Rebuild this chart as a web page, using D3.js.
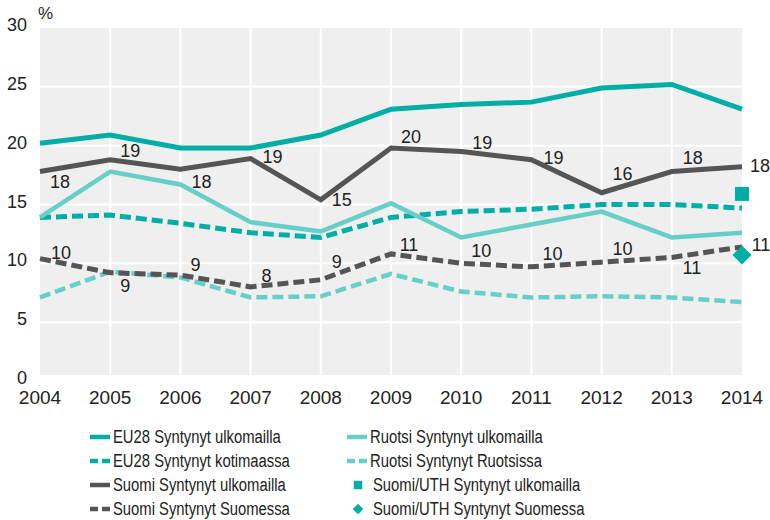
<!DOCTYPE html>
<html>
<head>
<meta charset="utf-8">
<script src="https://cdn.jsdelivr.net/npm/d3@7"></script>
<style>
  body { margin: 0; background: #fff; }
  svg text { font-family: "Liberation Sans", Arial, sans-serif; fill: #222; }
</style>
</head>
<body>
<svg id="chart" width="770" height="520"></svg>
<script>
var years = [2004, 2005, 2006, 2007, 2008, 2009, 2010, 2011, 2012, 2013, 2014];
var yTicks = [0, 5, 10, 15, 20, 25, 30];

var eu28Ulk    = [20.2, 20.9, 19.8, 19.8, 20.9, 23.1, 23.5, 23.7, 24.9, 25.2, 23.1];
var eu28Kot    = [13.9, 14.1, 13.4, 12.6, 12.2, 13.9, 14.4, 14.6, 15.0, 15.0, 14.7];
var suomiUlk   = [17.8, 18.8, 18.0, 18.9, 15.4, 19.8, 19.5, 18.8, 16.0, 17.8, 18.2];
var suomiSuom  = [10.4, 9.2, 9.0, 8.0, 8.6, 10.8, 10.0, 9.7, 10.1, 10.5, 11.4];
var ruotsiUlk  = [13.9, 17.8, 16.7, 13.5, 12.7, 15.1, 12.2, 13.3, 14.4, 12.2, 12.6];
var ruotsiRuot = [7.1, 9.3, 8.8, 7.1, 7.2, 9.1, 7.6, 7.1, 7.2, 7.1, 6.7];
var uthUlk  = 15.9;   // 2014
var uthSuom = 10.7;   // 2014

var suomiUlkLabels  = [18, 19, 18, 19, 15, 20, 19, 19, 16, 18, 18];
var suomiSuomLabels = [10, 9, 9, 8, 9, 11, 10, 10, 10, 11, 11];

var TEAL = '#00aea6', LIGHT = '#66cfc7', GREY = '#555555';

var svg = d3.select('#chart');

var x = d3.scaleLinear().domain([2004, 2014]).range([40, 742]);
var y = d3.scaleLinear().domain([0, 30]).range([381, 28]);

// plot background
svg.append('rect')
    .attr('x', x(2004)).attr('y', y(30))
    .attr('width', x(2014) - x(2004))
    .attr('height', y(0) - y(30) - 6)
    .attr('fill', '#efefef');

// gridlines
svg.append('g').selectAll('line').data(yTicks.slice(1, -1)).enter().append('line')
    .attr('x1', x(2004)).attr('x2', x(2014))
    .attr('y1', function (d) { return y(d); }).attr('y2', function (d) { return y(d); })
    .attr('stroke', '#fff').attr('stroke-width', 2);
svg.append('g').selectAll('line').data(years.slice(1, -1)).enter().append('line')
    .attr('x1', function (d) { return x(d); }).attr('x2', function (d) { return x(d); })
    .attr('y1', y(30)).attr('y2', y(0) - 6)
    .attr('stroke', '#fff').attr('stroke-width', 2);

// y axis labels
svg.append('g').selectAll('text').data(yTicks).enter().append('text')
    .attr('x', 27).attr('y', function (d) { return y(d) + 3; })
    .attr('text-anchor', 'end')
    .style('font-size', '18px')
    .text(function (d) { return d; });

svg.append('text').attr('x', 38).attr('y', 19)
    .style('font-size', '17px').text('%');

// x axis labels
svg.append('g').selectAll('text').data(years).enter().append('text')
    .attr('x', function (d) { return x(d); }).attr('y', 404)
    .attr('text-anchor', 'middle')
    .style('font-size', '19px')
    .text(function (d) { return d; });

var line = d3.line()
    .x(function (d, i) { return x(years[i]); })
    .y(function (d) { return y(d); });

function drawLine(values, color, width, dash) {
    svg.append('path')
        .datum(values)
        .attr('d', line)
        .attr('fill', 'none')
        .attr('stroke', color)
        .attr('stroke-width', width)
        .attr('stroke-dasharray', dash || null);
}

drawLine(ruotsiRuot, LIGHT, 4.5, '11,5');
drawLine(suomiSuom, GREY, 5, '11,5');
drawLine(eu28Kot, TEAL, 5, '11,5');
drawLine(ruotsiUlk, LIGHT, 4.5);
drawLine(suomiUlk, GREY, 5);
drawLine(eu28Ulk, TEAL, 5);

// Suomi/UTH markers
svg.append('path')
    .attr('d', d3.symbol().type(d3.symbolSquare).size(196)())
    .attr('transform', 'translate(' + x(2014) + ',' + y(uthUlk) + ')')
    .attr('fill', TEAL);
svg.append('path')
    .attr('d', d3.symbol().type(d3.symbolSquare).size(180)())
    .attr('transform', 'translate(' + x(2014) + ',' + y(uthSuom) + ') rotate(45)')
    .attr('fill', TEAL);

// value labels (offset from point: dx, dy)
var ulkOffsets = [[20, 10], [20, -9], [21, 12], [22, -2], [21, 0], [20, -12],
                  [21, -9], [22, -2], [21, -19], [21, -14], [18, -1]];
var suomOffsets = [[21, -6], [15, 13], [15, -11], [16, -11], [16, -18], [18, -9],
                   [20, -13], [21, -13], [21, -14], [20, 10], [19, -2]];

function drawLabels(values, labels, offsets) {
    svg.append('g').selectAll('text').data(values).enter().append('text')
        .attr('x', function (d, i) { return x(years[i]) + offsets[i][0]; })
        .attr('y', function (d, i) { return y(d) + offsets[i][1] + 6.5; })
        .attr('text-anchor', 'middle')
        .style('font-size', '18px')
        .text(function (d, i) { return labels[i]; });
}
drawLabels(suomiUlk, suomiUlkLabels, ulkOffsets);
drawLabels(suomiSuom, suomiSuomLabels, suomOffsets);

// legend
var legendLeft = [
    { name: 'EU28 Syntynyt ulkomailla', color: TEAL, dash: null },
    { name: 'EU28 Syntynyt kotimaassa', color: TEAL, dash: '8,4' },
    { name: 'Suomi Syntynyt ulkomailla', color: GREY, dash: null },
    { name: 'Suomi Syntynyt Suomessa', color: GREY, dash: '8,4' }
];
var legendRight = [
    { name: 'Ruotsi Syntynyt ulkomailla', color: LIGHT, dash: null },
    { name: 'Ruotsi Syntynyt Ruotsissa', color: LIGHT, dash: '8,4' },
    { name: 'Suomi/UTH Syntynyt ulkomailla', color: TEAL, symbol: 'square' },
    { name: 'Suomi/UTH Syntynyt Suomessa', color: TEAL, symbol: 'diamond' }
];

function legendText(g, tx, ty, name) {
    // the original face is condensed; squeeze Liberation Sans horizontally
    g.append('text')
        .attr('transform', 'translate(' + tx + ',' + ty + ') scale(0.78,1)')
        .style('font-size', '19px')
        .text(name);
}

function drawLegend(items, x0) {
    items.forEach(function (it, i) {
        var cy = 437 + i * 24;
        var g = svg.append('g');
        if (it.symbol) {
            g.append('path')
                .attr('d', d3.symbol().type(d3.symbolSquare).size(it.symbol == 'square' ? 72 : 56)())
                .attr('fill', it.color)
                .attr('transform', 'translate(' + (x0 + 11) + ',' + cy + ')' + (it.symbol == 'diamond' ? ' rotate(45)' : ''));
            legendText(g, x0 + 26, cy + 6, it.name);
        } else {
            g.append('line')
                .attr('x1', x0).attr('x2', x0 + 20)
                .attr('y1', cy).attr('y2', cy)
                .attr('stroke', it.color).attr('stroke-width', 4.5)
                .attr('stroke-dasharray', it.dash);
            legendText(g, x0 + 23, cy + 6, it.name);
        }
    });
}
drawLegend(legendLeft, 90);
drawLegend(legendRight, 347);
</script>
</body>
</html>
